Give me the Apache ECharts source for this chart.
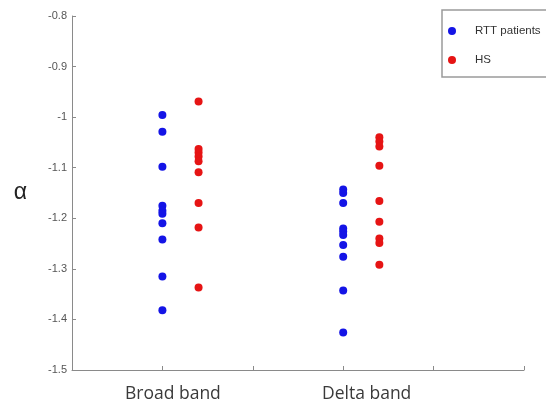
<!DOCTYPE html>
<html>
<head>
<meta charset="utf-8">
<script src="https://cdn.jsdelivr.net/npm/echarts@6/dist/echarts.min.js"></script>
<style>html,body{margin:0;padding:0;background:#fff;}#c{width:546px;height:407px;}</style>
</head>
<body>
<div id="c"></div>
<script>
const categories = ['Broad band', 'Delta band'];
const seriesNames = ['RTT patients', 'HS'];
const yTicks = [-1.5, -1.4, -1.3, -1.2, -1.1, -1, -0.9, -0.8];
const rttBroad = [-0.996, -1.029, -1.098, -1.175, -1.185, -1.191, -1.210, -1.242, -1.315, -1.382];
const hsBroad = [-0.969, -1.063, -1.070, -1.078, -1.087, -1.109, -1.170, -1.218, -1.337];
const rttDelta = [-1.143, -1.150, -1.170, -1.220, -1.226, -1.233, -1.253, -1.276, -1.343, -1.426];
const hsDelta = [-1.040, -1.048, -1.058, -1.096, -1.166, -1.207, -1.240, -1.249, -1.292];

// horizontal placement of each group on the x value axis
const rttX = [1, 3];
const hsX = [1.4, 3.4];

function pts(xs, groups) {
  const out = [];
  groups.forEach((g, i) => g.forEach(v => out.push([xs[i], v])));
  return out;
}

const chart = echarts.init(document.getElementById('c'), null, {renderer: 'canvas'});
const axisGray = '#8a8a8a';
chart.setOption({
  animation: false,
  backgroundColor: '#fff',
  grid: {left: 72, top: 16, right: 22, bottom: 37, containLabel: false},
  legend: {
    orient: 'vertical',
    left: 442, top: 10,
    icon: 'circle',
    itemWidth: 8, itemHeight: 8,
    itemGap: 15,
    padding: [14, 40, 10, 6],
    borderColor: '#9a9a9a', borderWidth: 1.5,
    textStyle: {fontSize: 11.5, color: '#333', fontFamily: 'Liberation Sans, Arial', padding: [0, 0, 0, 14], lineHeight: 14},
    data: seriesNames
  },
  xAxis: {
    type: 'value', min: 0, max: 5, interval: 1,
    axisLine: {lineStyle: {color: axisGray, width: 1}},
    axisTick: {inside: true, length: 4, lineStyle: {color: axisGray}},
    axisLabel: {show: false},
    splitLine: {show: false}
  },
  yAxis: {
    type: 'value', min: yTicks[0], max: yTicks[yTicks.length - 1], interval: 0.1,
    name: 'α', nameLocation: 'middle', nameRotate: 0, nameGap: 45,
    nameTextStyle: {fontSize: 23, color: '#222', fontFamily: 'Liberation Sans, Arial'},
    axisLine: {show: true, lineStyle: {color: axisGray, width: 1}},
    axisTick: {show: true, inside: true, length: 4, lineStyle: {color: axisGray}},
    axisLabel: {fontSize: 11, color: '#555', margin: 5, fontFamily: 'Liberation Sans, Arial',
      formatter: v => String(Math.round(v * 10) / 10)},
    splitLine: {show: false}
  },
  graphic: [
    {type: 'text', left: 125, top: 385, style: {text: categories[0], fontSize: 17.5, fill: '#3a3a3a', fontFamily: 'Open Sans, Liberation Sans'}},
    {type: 'text', left: 322, top: 385, style: {text: categories[1], fontSize: 17.5, fill: '#3a3a3a', fontFamily: 'Open Sans, Liberation Sans'}}
  ],
  series: [
    {name: seriesNames[0], type: 'scatter', symbolSize: 8, itemStyle: {color: '#1414e6', opacity: 1},
      data: pts(rttX, [rttBroad, rttDelta])},
    {name: seriesNames[1], type: 'scatter', symbolSize: 8, itemStyle: {color: '#e61414', opacity: 1},
      data: pts(hsX, [hsBroad, hsDelta])}
  ]
});
</script>
</body>
</html>
